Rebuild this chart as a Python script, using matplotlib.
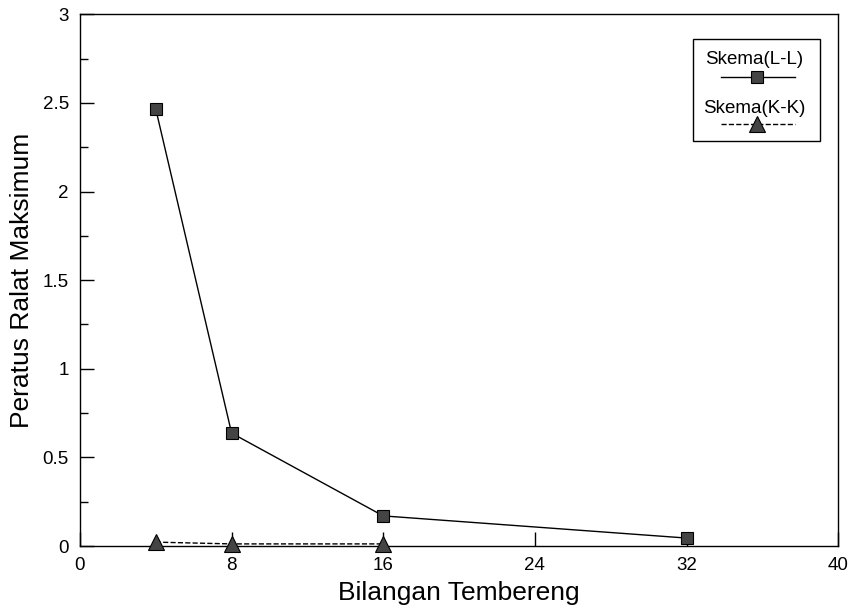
import matplotlib.pyplot as plt
from matplotlib.patches import Rectangle
from matplotlib.lines import Line2D
from matplotlib.ticker import MultipleLocator

plt.rcParams['font.family'] = ['Liberation Sans', 'DejaVu Sans']

# data
segmen = [4, 8, 16, 32]
ralat_LL = [2.465, 0.637, 0.17, 0.045]
segmen_KK = [4, 8, 16]
ralat_KK = [0.022, 0.012, 0.012]

fig = plt.figure(figsize=(8.49, 6.14), dpi=100)
ax = fig.add_axes([0.0942, 0.1107, 0.893, 0.866])

mk = '#444444'
ax.plot(segmen, ralat_LL, '-', color='black', lw=1,
        marker='s', ms=9, mfc=mk, mec='black', mew=0.8, zorder=3)
ax.plot(segmen_KK, ralat_KK, '--', color='black', lw=1,
        marker='^', ms=11, mfc=mk, mec='black', mew=0.8, zorder=3,
        clip_on=False)

ax.set_xlim(0, 40)
ax.set_ylim(0, 3)
ax.set_xticks([0, 8, 16, 24, 32, 40])
ax.yaxis.set_minor_locator(MultipleLocator(0.25))
ax.set_yticks([0, 0.5, 1, 1.5, 2, 2.5, 3])
ax.set_yticklabels(['0', '0.5', '1', '1.5', '2', '2.5', '3'])
ax.tick_params(axis='both', which='major', direction='in', length=10, width=1,
               labelsize=13.5, pad=8)
ax.tick_params(axis='y', which='minor', direction='in', length=6, width=1)
for s in ax.spines.values():
    s.set_linewidth(1)

ax.set_xlabel('Bilangan Tembereng', fontsize=19, labelpad=5)
ax.set_ylabel('Peratus Ralat Maksimum', fontsize=19, labelpad=6)

# legend drawn by hand: label above the line sample
T = ax.transAxes
ax.add_patch(Rectangle((0.809, 0.761), 0.167, 0.192, transform=T,
                       fill=False, lw=1, ec='black', zorder=5))
ax.text(0.889, 0.915, 'Skema(L-L)', transform=T, ha='center', va='center',
        fontsize=13.5)
ax.add_line(Line2D([0.846, 0.943], [0.883, 0.883], transform=T, color='black', lw=1))
ax.add_line(Line2D([0.893], [0.883], transform=T, marker='s', ms=9,
                   mfc=mk, mec='black', mew=0.8))
ax.text(0.889, 0.823, 'Skema(K-K)', transform=T, ha='center', va='center',
        fontsize=13.5)
ax.add_line(Line2D([0.846, 0.943], [0.793, 0.793], transform=T, color='black',
                   lw=1, ls='--'))
ax.add_line(Line2D([0.893], [0.793], transform=T, marker='^', ms=11,
                   mfc=mk, mec='black', mew=0.8))

fig.savefig('out.png', dpi=100)
